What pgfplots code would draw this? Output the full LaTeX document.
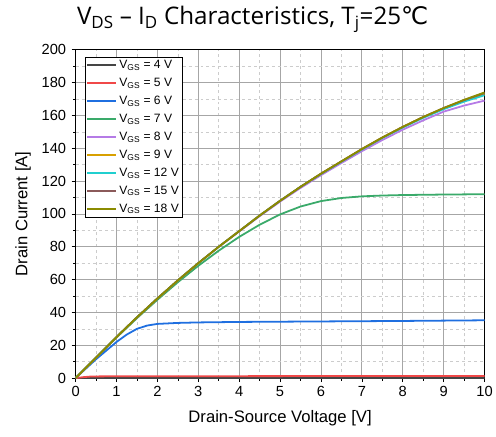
\documentclass[border=0pt]{standalone}
\usepackage{pgfplots}
\pgfplotsset{compat=1.18}
\usepackage{fontspec}
\setmainfont{Liberation Sans}
\newfontfamily\titlefont{Open Sans}
\newfontfamily\symfont{DejaVu Sans}

\definecolor{c4}{HTML}{454545}
\definecolor{c5}{HTML}{F04848}
\definecolor{c6}{HTML}{1F6FE0}
\definecolor{c7}{HTML}{3AAA6A}
\definecolor{c8}{HTML}{B57BE6}
\definecolor{c9}{HTML}{D8A000}
\definecolor{c12}{HTML}{20CFCF}
\definecolor{c15}{HTML}{8B5A5A}
\definecolor{c18}{HTML}{8B8B00}

\begin{document}
\begin{tikzpicture}
\begin{axis}[
    scale only axis,
    width=411bp, height=330bp,
    xmin=0, xmax=10, ymin=0, ymax=200,
    xtick={0,1,...,10}, ytick={0,20,...,200},
    minor x tick num=1, minor y tick num=1,
    tick pos=left, tick align=outside,
    major tick length=4bp, minor tick length=2.5bp,
    grid=both,
    major grid style={gray!70, line width=0.8pt},
    minor grid style={gray!40, dashed, line width=0.5pt},
    axis line style={black, line width=0.8pt},
    tick style={black, line width=0.6pt},
    ticklabel style={font=\fontsize{14.8}{16}\selectfont},
    xticklabel style={yshift=-1bp},
    yticklabel style={xshift=-2bp},
    /pgf/number format/assume math mode=true,
    xlabel={Drain-Source Voltage [V]},
    ylabel={Drain Current [A]},
    label style={font=\fontsize{16.8}{18}\selectfont},
    xlabel style={yshift=-7bp},
    ylabel style={yshift=4bp},
    title={\titlefont V\textsubscript{DS} – I\textsubscript{D} Characteristics, T\textsubscript{j}=25{\symfont ℃}},
    title style={font=\fontsize{24.4}{26}\selectfont, at={(0.433,1)}, anchor=base, yshift=19bp},
    every axis plot/.append style={line width=1.8pt, line join=round},
    legend style={at={(0.022,0.979)}, anchor=north west, draw=black, line width=0.6pt,
        fill=white, font=\fontsize{12.2}{13}\selectfont, row sep=4.1bp,
        inner sep=1.5bp},
    legend cell align=left,
    legend image code/.code={\draw[#1, line width=2.2pt] (0bp,0bp) -- (29bp,0bp);},
]
\addplot[c4] coordinates {(0,0) (2,0.02) (10,0.05)};
\addlegendentry{V\textsubscript{GS} = 4 V}
\addplot[c5] coordinates {(0,0) (0.2,0.6) (0.4,1.0) (1,1.1) (5,1.2) (10,1.3)};
\addlegendentry{V\textsubscript{GS} = 5 V}
\addplot[c6] coordinates {(0,0) (0.5,11.5) (1,22) (1.25,26.5) (1.5,30) (1.75,32) (2,33) (2.5,33.6) (3,33.9) (4,34.2) (6,34.5) (8,34.8) (10,35.2)};
\addlegendentry{V\textsubscript{GS} = 6 V}
\addplot[c7] coordinates {(0,0) (0.5,12.4) (1,24.7) (1.5,36.5) (2,47.7) (2.5,58.4) (3,68.4) (3.5,77.6) (4,86) (4.5,93.4) (5,99.7) (5.5,104.5) (6,107.8) (6.5,109.7) (7,110.7) (7.5,111.2) (8,111.5) (9,111.8) (10,112)};
\addlegendentry{V\textsubscript{GS} = 7 V}
\addplot[c8] coordinates {(0,0) (0.5,12.5) (1,25) (1.5,37) (2,48.5) (2.5,59.5) (3,70) (3.5,80) (4,89.3) (4.5,98.6) (5,107.5) (5.5,115.8) (6,123.6) (6.5,131) (7,138.2) (7.5,145) (8,151.3) (8.5,157) (9,162.3) (9.5,166) (10,169)};
\addlegendentry{V\textsubscript{GS} = 8 V}
\addplot[c9] coordinates {(0,0) (0.5,12.5) (1,25) (1.5,37) (2,48.5) (2.5,59.5) (3,70) (3.5,80) (4,89.5) (4.5,99) (5,108) (5.5,116.5) (6,124.5) (6.5,132) (7,139.5) (7.5,146.5) (8,153) (8.5,159) (9,164.3) (9.5,169) (10,173)};
\addlegendentry{V\textsubscript{GS} = 9 V}
\addplot[c12] coordinates {(0,0) (0.5,12.5) (1,25) (1.5,37) (2,48.5) (2.5,59.5) (3,70) (3.5,80) (4,89.5) (4.5,99) (5,108) (5.5,116.5) (6,124.3) (6.5,131.8) (7,139.2) (7.5,146.2) (8,152.6) (8.5,158.5) (9,163.8) (9.5,168.4) (10,172.3)};
\addlegendentry{V\textsubscript{GS} = 12 V}
\addplot[c15] coordinates {(0,0) (0.5,12.5) (1,25) (1.5,37) (2,48.5) (2.5,59.5) (3,70) (3.5,80) (4,89.5) (4.5,99) (5,108) (5.5,116.5) (6,124.5) (6.5,132) (7,139.5) (7.5,146.5) (8,153) (8.5,159) (9,164.5) (9.5,169.3) (10,173.6)};
\addlegendentry{V\textsubscript{GS} = 15 V}
\addplot[c18] coordinates {(0,0) (0.5,12.5) (1,25) (1.5,37) (2,48.5) (2.5,59.5) (3,70) (3.5,80) (4,89.5) (4.5,99) (5,108) (5.5,116.5) (6,124.5) (6.5,132) (7,139.5) (7.5,146.5) (8,153) (8.5,159) (9,164.5) (9.5,169.5) (10,174)};
\addlegendentry{V\textsubscript{GS} = 18 V}
\end{axis}
\path (current axis.south west) ++(-76bp,-59bp) (current axis.north east) ++(9bp,50bp);
\end{tikzpicture}
\end{document}
